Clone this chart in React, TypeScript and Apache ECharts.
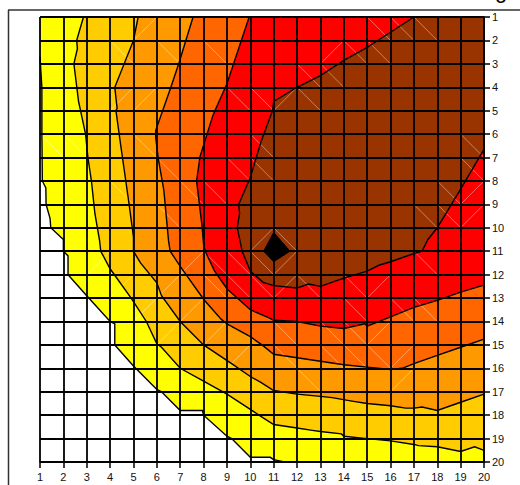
import React, { useEffect, useRef } from "react";
import * as echarts from "echarts";

const ticks = [1, 20];
const levelColors = ["#FFFF00", "#FFCC00", "#FF9900", "#FF6600", "#FF0000", "#993300"];
const lowerEdge = [[1,2.7],[1.08,4],[1.08,6],[1.1,8],[1.25,8.3],[1.26,9],[1.43,9.6],[1.46,10],[2,10.5],[2,11],[2.2,11.2],[2.2,12],[3,12.9],[4,14],[4.2,14.1],[4.2,15],[5,15.9],[6,16.9],[6.2,17],[7,17.8],[7.95,17.8],[8,18],[9,18.9],[9.2,19],[10,19.8],[10.85,19.8],[11,19.9],[11.45,20]];
const contour2 = [[2.86,1],[2.57,2],[2.6,2.35],[2.45,3],[2.65,4.6],[2.95,6],[3.05,7],[3.2,8],[3.35,9.4],[3.55,10.55],[3.6,11],[4,11.75],[4.9,13],[5.55,14],[6,14.95],[6.2,15.1],[7,16],[8,16.55],[9,17.1],[10,17.75],[10.45,18.05],[11,18.4],[12,18.55],[12.65,18.65],[13,18.7],[13.9,18.8],[14,18.9],[15,19],[16,19.1],[17,19.25],[17.2,19.3],[18,19.35],[19,19.55],[19.6,19.35],[20,19.5]];
const contour3 = [[5.2,1],[5,2],[4.2,4],[4.3,4.9],[4.25,5],[4.45,6.45],[4.6,7.5],[4.8,8.9],[5,10.4],[5,11],[5.3,11.5],[6,12.35],[6.2,12.9],[7,14],[8,15],[9.2,15.8],[10,16.35],[10.45,16.6],[11,16.95],[12,17.1],[13,17.2],[13.5,17.25],[14.35,17.4],[15,17.5],[16,17.6],[16.65,17.7],[17,17.7],[17.35,17.65],[18,17.8],[19,17.45],[20,17.1]];
const contour4 = [[7.55,1],[6.95,2.95],[6.6,4],[5.95,5.85],[5.95,6.15],[6.07,7.1],[6.3,8.4],[6.5,10.55],[6.57,11],[7,11.65],[8,13.05],[8.75,13.9],[9,14.1],[10,14.65],[10.5,15],[11,15.4],[12,15.55],[13,15.7],[14,15.85],[15,15.95],[16,16.05],[16.5,16],[17,15.8],[18,15.45],[19,15.1],[20,14.75]];
const contour5 = [[9.95,1],[9,3.85],[8.55,4.85],[8.4,5.2],[7.85,6.95],[7.7,8],[7.93,9.9],[8,10.7],[8.07,11],[8.47,11.85],[9,12.6],[10,13.5],[10.8,13.85],[11,13.95],[12,14],[13,14.2],[14,14.3],[14.9,14.1],[15,14.2],[16,13.8],[17,13.4],[18,13.1],[19,12.75],[20,12.45]];
const contour6 = [[17,1],[16,1.65],[15,2.3],[14,2.85],[13,3.5],[12,4],[11,4.6],[10.95,5],[10.45,6.35],[10,7.85],[9.5,9],[9.54,9.38],[9.44,10],[9.57,10.6],[9.65,11],[10,11.85],[10.55,12.33],[11,12.47],[12,12.57],[12.5,12.4],[13,12.5],[14,12.15],[15,11.85],[15.5,11.6],[16,11.45],[17,11.1],[17.35,11],[17.6,10.5],[18,10],[19,8.35],[20,6.65]];
const peak = [[11,10.2],[11.7,11],[11,11.45],[10.57,11]];

// Faint triangulation seams, as [column, row] of the grid cell they cross.
const fallingSeams = [[15,1],[16,1],[17,1],[4,2],[6,2],[8,2],[14,2],[15,2],[12,3],[13,3],[9,4],[10,4],[12,4],[1,6],[2,6],[5,6],[10,6],[19,6],[6,7],[9,7],[10,7],[19,7],[4,8],[7,8],[8,8],[18,8],[6,9],[17,9],[18,9],[11,10],[10,11],[8,11],[9,11],[17,11],[8,12],[9,12],[10,12],[12,12],[14,12],[16,13],[14,13],[17,13],[11,14],[13,14],[14,14],[11,15],[13,15],[14,15],[15,15],[12,16]];
const risingSeams = [[5,1],[13,2],[4,4],[5,4],[11,4],[19,8],[19,9],[10,10],[11,11],[7,11],[6,12],[4,12],[11,12],[15,12],[5,13],[7,13],[6,14],[15,14],[9,15],[16,15],[16,16],[8,14],[3,11]];

const closures: number[][][] = [
  [[20,20],[20,1],[1,1]],
  [[20,1]],
  [[20,1]],
  [[20,1]],
  [[20,1]],
  [[20,1]],
];
const contours = [lowerEdge, contour2, contour3, contour4, contour5, contour6];

export default function App() {
  const ref = useRef<HTMLDivElement>(null);
  useEffect(() => {
    const chart = echarts.init(ref.current!, null, { renderer: "svg" });
    const labelStyle = { color: "#111", fontFamily: "Liberation Sans, Arial, sans-serif", fontSize: 11 };
    const gridLine = { show: true, lineStyle: { color: "#000", width: 1.8 } };
    const seams = [
      ...fallingSeams.map(([c, r]) => [[c, r], [c + 1, r + 1]]),
      ...risingSeams.map(([c, r]) => [[c + 1, r], [c, r + 1]]),
    ];
    chart.setOption({
      animation: false,
      grid: { left: 40, top: 17, width: 444, height: 445, containLabel: false },
      xAxis: {
        type: "value", min: ticks[0], max: ticks[1], interval: 1, position: "bottom", z: 3,
        axisLine: { show: true, onZero: false, lineStyle: { color: "#000", width: 1.5 } },
        axisTick: { show: true, length: 6, lineStyle: { color: "#000", width: 1.5 } },
        splitLine: gridLine,
        axisLabel: { ...labelStyle, margin: 9, showMinLabel: true, showMaxLabel: true, hideOverlap: false },
      },
      yAxis: {
        type: "value", min: ticks[0], max: ticks[1], interval: 1, inverse: true, position: "right", z: 3,
        axisLine: { show: true, onZero: false, lineStyle: { color: "#000", width: 1.5 } },
        axisTick: { show: true, length: 6, lineStyle: { color: "#000", width: 1.5 } },
        splitLine: gridLine,
        axisLabel: { ...labelStyle, margin: 8, showMinLabel: true, showMaxLabel: true, hideOverlap: false },
      },
      graphic: [
        { type: "line", silent: true, shape: { x1: 8.5, y1: 10, x2: 8.5, y2: 485 }, style: { stroke: "#333", lineWidth: 1.5 } },
        { type: "line", silent: true, shape: { x1: 8, y1: 10, x2: 520, y2: 10 }, style: { stroke: "#333", lineWidth: 1.5 } },
        { type: "text", silent: true, x: 495, y: -21, style: { text: "g", fontSize: 22, fontFamily: "Liberation Sans, Arial, sans-serif", fill: "#000" } },
      ],
      series: [
        {
          type: "custom",
          coordinateSystem: "cartesian2d",
          z: 2,
          clip: false,
          silent: true,
          data: contours.map(() => [1, 1]),
          renderItem: (params: any, api: any) => {
            const i = params.dataIndex;
            const line = contours[i].map((p) => api.coord(p));
            const closing = closures[i].map((p) => api.coord(p));
            return {
              type: "polygon",
              shape: { points: [...line, ...closing] },
              style: { fill: levelColors[i], stroke: "none" },
            };
          },
        },
        {
          type: "custom",
          coordinateSystem: "cartesian2d",
          z: 2,
          silent: true,
          data: seams.map(() => [1, 1]),
          renderItem: (params: any, api: any) => ({
            type: "line",
            shape: (() => {
              const [a, b] = seams[params.dataIndex];
              const p = api.coord(a);
              const q = api.coord(b);
              return { x1: p[0], y1: p[1], x2: q[0], y2: q[1] };
            })(),
            style: { stroke: "rgba(255,255,255,0.4)", lineWidth: 1 },
          }),
        },
        {
          type: "custom",
          coordinateSystem: "cartesian2d",
          z: 2,
          silent: true,
          data: contours.map(() => [1, 1]),
          renderItem: (params: any, api: any) => ({
            type: "polyline",
            shape: { points: contours[params.dataIndex].map((p) => api.coord(p)) },
            style: { fill: "none", stroke: "#000", lineWidth: 1.4 },
          }),
        },
        {
          type: "custom",
          coordinateSystem: "cartesian2d",
          z: 2,
          silent: true,
          data: [[1, 1]],
          renderItem: (_: any, api: any) => ({
            type: "polygon",
            shape: { points: peak.map((p) => api.coord(p)) },
            style: { fill: "#000", stroke: "#000" },
          }),
        },
      ],
    });
    return () => chart.dispose();
  }, []);
  return <div ref={ref} style={{ position: "fixed", left: 0, top: 0, width: 520, height: 485, background: "#fff" }} />;
}
